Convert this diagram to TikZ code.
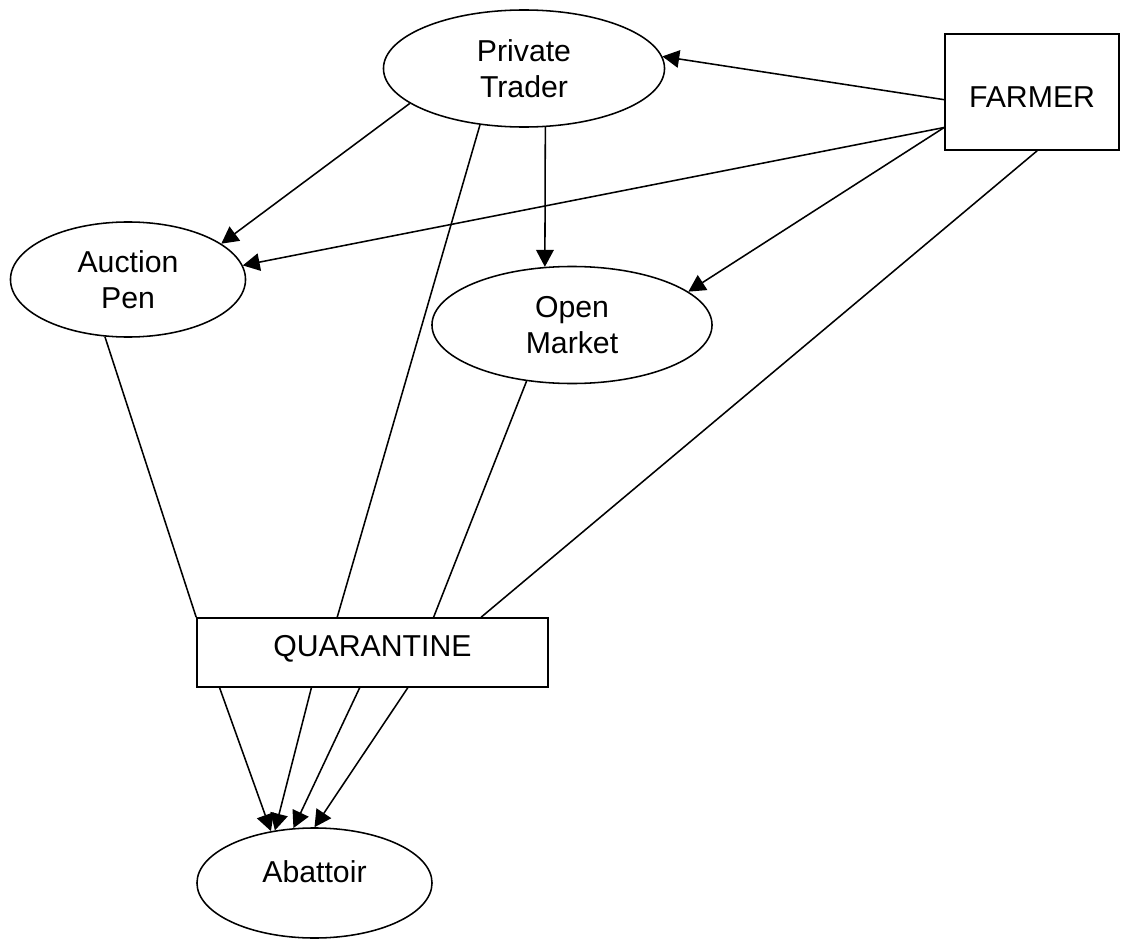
\documentclass[tikz,border=0pt]{standalone}
\usepackage{fontspec}
\setmainfont{Liberation Sans}
\usepackage{tikz}
\usetikzlibrary{arrows.meta,shapes.geometric}

\begin{document}
\begin{tikzpicture}[x=0.025cm,y=-0.025cm,line width=1.1pt,
  >={Triangle[length=12pt,width=12.5pt]},
  font=\fontsize{21.5}{25.5}\selectfont,
  oval/.style={shape=ellipse,draw,inner sep=0pt,align=center},
  box/.style={shape=rectangle,draw,inner sep=0pt,align=center}]
\useasboundingbox (0,0) rectangle (1121,940);

\node[oval,minimum width=7.025cm,minimum height=2.925cm] (1) at (524,68.5){Private\\Trader};
\node[box,minimum width=4.35cm,minimum height=2.9cm] (2) at (1032,92){\raisebox{-11.2pt}[0pt][0pt]{FARMER}};
\node[oval,minimum width=5.875cm,minimum height=2.875cm] (3) at (128,279.5){Auction\\Pen};
\node[oval,minimum width=7cm,minimum height=2.925cm] (4) at (572,325){Open\\Market};
\node[box,minimum width=8.775cm,minimum height=1.725cm] (5) at (372.5,652.5){\raisebox{10pt}{QUARANTINE}};
\node[oval,minimum width=5.875cm,minimum height=2.75cm] (6) at (314.5,883){\raisebox{15.6pt}{Abattoir}};
\draw[->] (2.185) -- (1.5);
\draw[->] (2.202) -- (3.7);
\draw[->] (2.202) -- (4.16);
\draw (2.275) -- (5.18);
\draw[->] (1.197) -- (3.21);
\draw (1.232) -- (5.135);
\draw[->] (1.290) -- (4.115);
\draw (3.248) -- (5.north west);
\draw (4.231) -- (5.30);
\draw[->] (5.193) -- (6.130);
\draw[->] (5.210) -- (6.127);
\draw[->] (5.250) -- (6.111);
\draw[->] (5.315) -- (6.90);

\end{tikzpicture}
\end{document}
